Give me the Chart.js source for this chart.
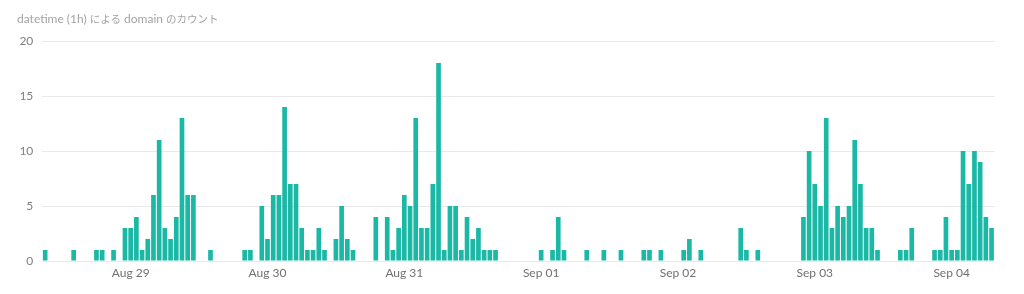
<!DOCTYPE html>
<html>
<head>
<meta charset="utf-8">
<script src="https://cdn.jsdelivr.net/npm/chart.js@4.4.0/dist/chart.umd.min.js"></script>
<style>
  html, body { margin: 0; padding: 0; background: #ffffff; }
  #wrap { position: relative; width: 1024px; height: 294px; }
  #title { position: absolute; left: 17px; top: 11px; font: 12px Lato, "Noto Sans CJK JP", sans-serif; color: #a3a3a3; white-space: nowrap; }
  #title .jp { font-family: "Noto Sans CJK JP", sans-serif; font-size: 10.5px; }
  canvas { display: block; }
</style>
</head>
<body>
<div id="wrap">
  <div id="title">datetime (1h) <span class="jp">による</span> domain <span class="jp">のカウント</span></div>
  <canvas id="c" width="1024" height="294"></canvas>
</div>
<script>
// Hourly buckets start at Aug 28 09:00; index 15 is Aug 29 00:00
const firstMidnightIndex = 15;
const dayTicks = ['Aug 29', 'Aug 30', 'Aug 31', 'Sep 01', 'Sep 02', 'Sep 03', 'Sep 04'];
const yTicks = [0, 5, 10, 15, 20];

// count of domain per hour (167 hourly buckets)
const counts = [
  1, 0, 0, 0, 0, 1, 0, 0, 0, 1, 1, 0, 1, 0, 3,          // Aug 28 09h-23h
  3, 4, 1, 2, 6, 11, 3, 2, 4, 13, 6, 6, 0, 0, 1, 0, 0, 0, 0, 0, 1, 1, 0, 5,   // Aug 29
  2, 6, 6, 14, 7, 7, 3, 1, 1, 3, 1, 0, 2, 5, 2, 1, 0, 0, 0, 4, 0, 4, 1, 3,    // Aug 30
  6, 5, 13, 3, 3, 7, 18, 1, 5, 5, 1, 4, 2, 3, 1, 1, 1, 0, 0, 0, 0, 0, 0, 0,   // Aug 31
  1, 0, 1, 4, 1, 0, 0, 0, 1, 0, 0, 1, 0, 0, 1, 0, 0, 0, 1, 1, 0, 1, 0, 0,     // Sep 01
  0, 1, 2, 0, 1, 0, 0, 0, 0, 0, 0, 3, 1, 0, 1, 0, 0, 0, 0, 0, 0, 0, 4, 10,    // Sep 02
  7, 5, 13, 3, 5, 4, 5, 11, 7, 3, 3, 1, 0, 0, 0, 1, 1, 3, 0, 0, 0, 1, 1, 4,   // Sep 03
  1, 1, 10, 7, 10, 9, 4, 3                                                    // Sep 04 00h-07h
];
const hourLabels = counts.map((_, i) => String(i));

new Chart(document.getElementById('c'), {
  type: 'bar',
  data: {
    labels: hourLabels,
    datasets: [{
      data: counts,
      backgroundColor: '#1cb8a6',
      borderWidth: 0,
      barPercentage: 0.82,
      categoryPercentage: 1.0
    }]
  },
  options: {
    responsive: false,
    animation: false,
    layout: { padding: { left: 0, right: 29.6, top: 41, bottom: 0 } },
    plugins: { legend: { display: false }, tooltip: { enabled: false }, title: { display: false } },
    scales: {
      x: {
        type: 'category',
        offset: true,
        grid: { display: false, drawTicks: false },
        border: { display: false },
        ticks: {
          autoSkip: false,
          maxRotation: 0,
          minRotation: 0,
          padding: 5,
          color: '#707070',
          font: { family: 'Lato, sans-serif', size: 12 },
          callback: function (value, index) {
            const d = index - firstMidnightIndex;
            if (d >= 0 && d % 24 === 0) return dayTicks[d / 24] || '';
            return '';
          }
        },
        afterFit: function (scale) { scale.height = 33; }
      },
      y: {
        min: 0,
        max: 20,
        grid: { color: '#e9e9e9', drawTicks: false, lineWidth: 1 },
        border: { display: false },
        ticks: {
          stepSize: 5,
          padding: 9,
          color: '#808080',
          font: { family: 'Lato, sans-serif', size: 12 },
          callback: function (v) { return yTicks.includes(v) ? String(v) : ''; }
        },
        afterFit: function (scale) { scale.width = 42.3; }
      }
    }
  }
});
</script>
</body>
</html>
